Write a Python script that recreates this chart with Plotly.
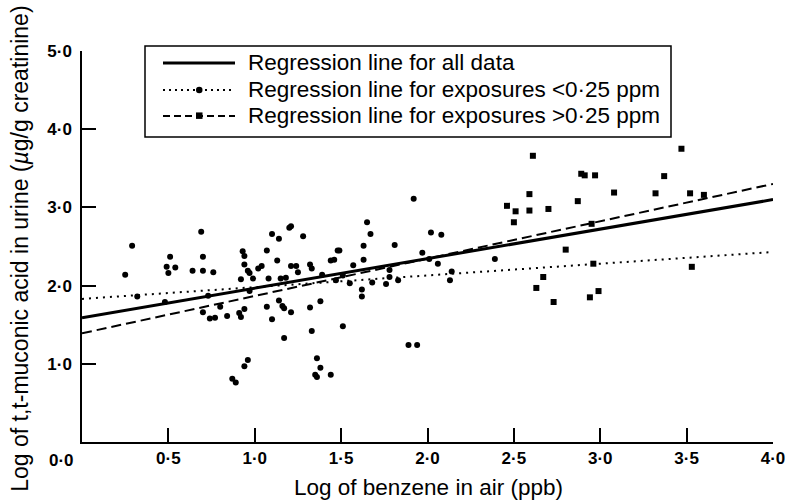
import plotly.graph_objects as go

# ---- data ----
low_x = [0.25, 0.29, 0.32, 0.48, 0.49, 0.50, 0.51, 0.54, 0.64, 0.69, 0.70, 0.70, 0.70, 0.73, 0.74,
         0.76, 0.77, 0.80, 0.84, 0.87, 0.89, 0.91, 0.92, 0.92, 0.93, 0.94, 0.94, 0.94, 0.94, 0.96,
         0.96, 0.97, 0.97, 0.99, 1.02, 1.04, 1.07, 1.07, 1.08, 1.10, 1.10, 1.13, 1.14, 1.14, 1.15,
         1.16, 1.17, 1.17, 1.18, 1.20, 1.21, 1.21, 1.21, 1.24, 1.25, 1.28, 1.32, 1.32, 1.33, 1.33,
         1.36, 1.35, 1.36, 1.38, 1.38, 1.39, 1.44, 1.44, 1.46, 1.47, 1.48, 1.49, 1.51, 1.51, 1.55,
         1.57, 1.62, 1.62, 1.63, 1.63, 1.65, 1.67, 1.68, 1.76, 1.78, 1.78, 1.81, 1.83, 1.92, 2.02,
         2.08, 1.97, 2.06, 2.39, 2.14, 2.13, 2.01, 1.89, 1.94]
low_y = [2.14, 2.51, 1.86, 1.79, 2.24, 2.16, 2.37, 2.23, 2.19, 2.69, 2.37, 2.19, 1.66, 1.87, 1.58,
         2.17, 1.59, 1.73, 1.61, 0.81, 0.76, 1.65, 1.60, 2.08, 2.44, 2.38, 2.27, 1.70, 0.97, 1.05,
         2.19, 2.16, 1.93, 2.09, 2.22, 2.25, 2.45, 1.73, 2.09, 1.57, 2.66, 2.32, 2.60, 1.81, 2.09,
         1.74, 1.71, 1.33, 2.10, 2.74, 2.76, 1.66, 2.25, 2.25, 2.17, 2.63, 1.72, 2.27, 2.22, 1.42,
         1.07, 0.86, 0.83, 0.95, 1.80, 2.14, 0.86, 2.32, 2.33, 2.07, 2.45, 2.45, 1.48, 2.13, 2.03,
         2.26, 1.95, 1.86, 2.33, 2.51, 2.81, 2.66, 2.04, 2.02, 2.20, 2.11, 2.52, 2.07, 3.11, 2.68,
         2.65, 2.42, 2.28, 2.34, 2.18, 2.07, 2.34, 1.24, 1.24]

high_x = [2.61, 2.89, 2.91, 2.97, 2.59, 2.46, 2.51, 2.59, 2.70, 2.87, 2.50, 2.95, 2.80,
          2.96, 2.67, 2.63, 2.73, 2.94, 2.99, 3.47, 3.37, 3.08, 3.32, 3.52, 3.60, 3.53]
high_y = [3.66, 3.43, 3.41, 3.41, 3.17, 3.02, 2.95, 2.96, 2.98, 3.08, 2.81, 2.79, 2.46,
          2.28, 2.11, 1.97, 1.79, 1.85, 1.93, 3.75, 3.40, 3.19, 3.18, 3.18, 3.16, 2.24]

line_x = [0.0, 4.0]
line_all = [1.59, 3.10]
line_low = [1.83, 2.43]
line_high = [1.39, 3.30]

x_ticks = [0.5, 1.0, 1.5, 2.0, 2.5, 3.0, 3.5, 4.0]
x_labels = ["0·5", "1·0", "1·5", "2·0", "2·5", "3·0", "3·5", "4·0"]
y_ticks = [1.0, 2.0, 3.0, 4.0, 5.0]
y_labels = ["1·0", "2·0", "3·0", "4·0", "5·0"]

legend_labels = ["Regression line for all data",
                 "Regression line for exposures <0·25 ppm",
                 "Regression line for exposures >0·25 ppm"]

FONT = "Liberation Sans, Arial, sans-serif"
W, H = 787, 501
# plot area in window pixels
X0, X1, YT, YB = 82, 773, 51, 442.5
L, R, T, B = X0, W - X1, YT, H - YB


def px(xp):
    return (xp - X0) / (X1 - X0)


def py(yp):
    return (YB - yp) / (YB - YT)


fig = go.Figure()
fig.add_trace(go.Scatter(x=line_x, y=line_all, mode="lines",
                         line=dict(color="black", width=3), showlegend=False))
fig.add_trace(go.Scatter(x=line_x, y=line_low, mode="lines",
                         line=dict(color="black", width=2, dash="2px,5px"), showlegend=False))
fig.add_trace(go.Scatter(x=line_x, y=line_high, mode="lines",
                         line=dict(color="black", width=2, dash="10px,5px"), showlegend=False))
fig.add_trace(go.Scatter(x=low_x, y=low_y, mode="markers",
                         marker=dict(symbol="circle", size=6, color="black"), showlegend=False))
fig.add_trace(go.Scatter(x=high_x, y=high_y, mode="markers",
                         marker=dict(symbol="square", size=6, color="black"), showlegend=False))

shapes = []
annotations = []
# legend box
shapes.append(dict(type="rect", xref="paper", yref="paper", x0=px(145), x1=px(671),
                   y0=py(137), y1=py(46), line=dict(color="black", width=1.5),
                   fillcolor="white", layer="above"))
rows = [63, 90, 116]
dashes = ["solid", "2px,4px", "7px,4px"]
widths = [3, 2, 2]
for i, (yr, d, w) in enumerate(zip(rows, dashes, widths)):
    shapes.append(dict(type="line", xref="paper", yref="paper", x0=px(163), x1=px(235),
                       y0=py(yr), y1=py(yr), line=dict(color="black", width=w, dash=d),
                       layer="above"))
    annotations.append(dict(x=px(246), y=py(yr), xref="paper", yref="paper", text=legend_labels[i],
                            showarrow=False, xanchor="left", yanchor="middle",
                            font=dict(family=FONT, size=22.5, color="black")))
# legend markers
shapes.append(dict(type="circle", xref="paper", yref="paper", x0=px(196), x1=px(202.5),
                   y0=py(93.2), y1=py(86.8), fillcolor="black", line=dict(width=0), layer="above"))
shapes.append(dict(type="rect", xref="paper", yref="paper", x0=px(196), x1=px(202.5),
                   y0=py(119), y1=py(112.5), fillcolor="black", line=dict(width=0), layer="above"))

# origin label and axis titles
annotations.append(dict(x=px(61), y=py(461), xref="paper", yref="paper", text="0·0",
                        showarrow=False, xanchor="center", yanchor="middle",
                        font=dict(family=FONT, size=17, color="black", weight="bold")))
annotations.append(dict(x=px(428), y=py(488), xref="paper", yref="paper",
                        text="Log of benzene in air (ppb)", showarrow=False,
                        xanchor="center", yanchor="middle",
                        font=dict(family=FONT, size=22.5, color="black")))
annotations.append(dict(x=px(20), y=py(249), xref="paper", yref="paper",
                        text="Log of t,t-muconic acid in urine (<i>µ</i>g/g creatinine)",
                        showarrow=False, textangle=-90, xanchor="center", yanchor="middle",
                        font=dict(family=FONT, size=23, color="black")))

fig.update_layout(
    width=W, height=H,
    margin=dict(l=L, r=R, t=T, b=B, pad=0),
    paper_bgcolor="white", plot_bgcolor="white",
    showlegend=False,
    shapes=shapes, annotations=annotations,
    xaxis=dict(range=[0, 4], tickvals=x_ticks, ticktext=x_labels, ticks="inside", ticklen=14,
               tickwidth=1.5, tickcolor="black", showline=True, linecolor="black", linewidth=1.5,
               showgrid=False, zeroline=False, automargin=False,
               tickfont=dict(family=FONT, size=17, color="black", weight="bold")),
    yaxis=dict(range=[0, 5], tickvals=y_ticks, ticktext=y_labels, ticks="inside", ticklen=14,
               tickwidth=1.5, tickcolor="black", showline=True, linecolor="black", linewidth=1.5,
               showgrid=False, zeroline=False, ticklabelstandoff=5, automargin=False,
               tickfont=dict(family=FONT, size=17, color="black", weight="bold")),
)
fig.update_traces(cliponaxis=False)

fig.write_html("out.html", config={"displayModeBar": False},
               post_script="document.body.style.margin='0';document.body.style.overflow='hidden';")
